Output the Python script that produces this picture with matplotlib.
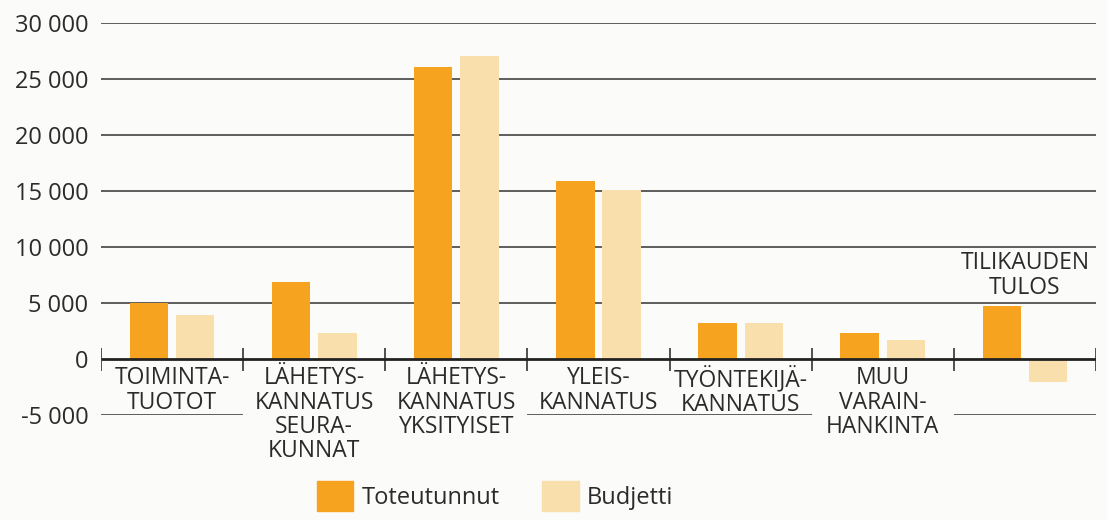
import matplotlib.pyplot as plt
from matplotlib.patches import Patch

plt.rcParams['font.family'] = ['Open Sans', 'DejaVu Sans']

# Tiedot kuvasta
kategoriat = ["TOIMINTA-\nTUOTOT", "LÄHETYS-\nKANNATUS\nSEURA-\nKUNNAT",
              "LÄHETYS-\nKANNATUS\nYKSITYISET", "YLEIS-\nKANNATUS",
              "TYÖNTEKIJÄ-\nKANNATUS", "MUU\nVARAIN-\nHANKINTA", ""]
toteutunnut = [5000, 6900, 26000, 15900, 3200, 2300, 4700]
budjetti = [3900, 2300, 27000, 15100, 3200, 1650, -2100]
y_tikit = [-5000, 0, 5000, 10000, 15000, 20000, 25000, 30000]

oranssi = '#F6A41F'
beige = '#F9DFAC'
teksti = '#2b2b2b'
tausta = '#FBFBF9'

fig = plt.figure(figsize=(11.07, 5.2), dpi=100, facecolor=tausta)
ax = fig.add_axes([101/1107, 1 - 415/520, 995/1107, (415 - 22.5)/520])
ax.set_facecolor(tausta)

n = len(kategoriat)
x = list(range(n))
leveys = 0.27
siirto = 0.163

ax.bar([i - siirto for i in x], toteutunnut, leveys, color=oranssi, zorder=2)
ax.bar([i + siirto for i in x], budjetti, leveys, color=beige, zorder=2)

# ruudukko
for v in y_tikit[2:]:
    ax.hlines(v, -0.5, n - 0.5, color='#333333', lw=1.1, zorder=1)
ax.hlines(0, -0.5, n - 0.5, color='#222222', lw=2.0, zorder=3)
# -5000 viiva vain lyhyiden nimien alla
for i, k in enumerate(kategoriat):
    if k.count("\n") < 2:
        ax.hlines(-5000, i - 0.5, i + 0.5, color='#333333', lw=1.1, zorder=1)
# erottimet
ax.vlines([i - 0.5 for i in range(n + 1)], -1050, 930, color='#222222', lw=1.1, zorder=3)

for i, k in enumerate(kategoriat):
    ax.text(i, -650, k, ha='center', va='top', fontsize=16.5, color=teksti,
            linespacing=1.02, zorder=4)
ax.text(6, 5250, "TILIKAUDEN\nTULOS", ha='center', va='bottom', fontsize=16.5,
        color=teksti, linespacing=1.05)

ax.set_xlim(-0.5, n - 0.5)
ax.set_ylim(-5000, 30000)
ax.set_xticks([])
ax.set_yticks(y_tikit)
ax.set_yticklabels([f"{v:,}".replace(",", " ") for v in y_tikit])
ax.tick_params(axis='y', length=0, pad=9, labelsize=17, labelcolor=teksti)
for s in ax.spines.values():
    s.set_visible(False)

kahvat = [Patch(color=oranssi, label='Toteutunnut'), Patch(color=beige, label='Budjetti')]
fig.legend(handles=kahvat, loc='center', bbox_to_anchor=(495/1107, 1 - 496/520),
           ncol=2, frameon=False, fontsize=17, handlelength=1.55, handleheight=1.55,
           handletextpad=0.35, columnspacing=1.8, labelcolor=teksti)

fig.savefig('out.png', dpi=100, facecolor=tausta)
